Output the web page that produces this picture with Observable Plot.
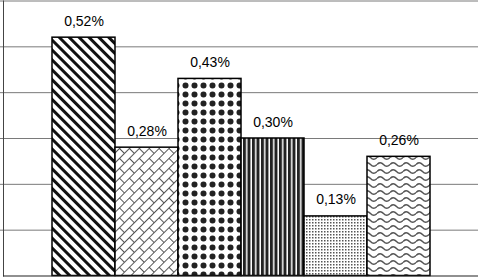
<!DOCTYPE html>
<html>
<head>
<meta charset="utf-8">
<script src="https://cdn.jsdelivr.net/npm/d3@7"></script>
<script src="https://cdn.jsdelivr.net/npm/@observablehq/plot@0.6"></script>
<style>
  html, body { margin: 0; padding: 0; background: #fff; }
  svg { display: block; }
</style>
</head>
<body>
<div id="chart"></div>
<script>
const categories = ["1", "2", "3", "4", "5", "6"];
const values = [0.52, 0.28, 0.43, 0.30, 0.13, 0.26];
const labels = ["0,52%", "0,28%", "0,43%", "0,30%", "0,13%", "0,26%"];
const patterns = ["p1", "p2", "p3", "p4", "p5", "p6"];
const yTicks = [0, 0.1, 0.2, 0.3, 0.4, 0.5, 0.6];

const data = categories.map((c, i) => ({
  cat: c, value: values[i], label: labels[i], fill: `url(#${patterns[i]})`
}));

const chart = Plot.plot({
  width: 478,
  height: 280,
  marginTop: 0.5,
  marginBottom: 4.5,
  marginLeft: 3,
  marginRight: 0,
  style: { fontFamily: "'Liberation Sans', Arial, sans-serif", background: "#fff" },
  x: { domain: categories, paddingInner: 0, paddingOuter: 0.75, axis: null },
  y: { domain: [0, 0.6], axis: null },
  color: { type: "identity" },
  marks: [
    Plot.gridY(yTicks.slice(1), { stroke: "#7a7a7a", strokeOpacity: 1, strokeWidth: 1 }),
    Plot.axisY(yTicks.slice(1), { tickSize: 3, tickFormat: () => "", label: null, stroke: "#7a7a7a" }),
    Plot.frame({ anchor: "left", stroke: "#444" }),
    Plot.barY(data, { x: "cat", y: "value", fill: "fill", stroke: "#000", strokeWidth: 1.5 }),
    Plot.ruleY([0], { stroke: "#222", strokeWidth: 1.2 }),
    Plot.text(data, { x: "cat", y: "value", text: "label", dy: -12, lineAnchor: "bottom", fontSize: 14, fill: "#000" })
  ]
});

const defs = `
<defs>
  <pattern id="p1" patternUnits="userSpaceOnUse" width="7" height="7" patternTransform="rotate(-45)">
    <rect width="7" height="7" fill="#fff"/>
    <rect x="0" y="0" width="3" height="7" fill="#111"/>
  </pattern>
  <pattern id="p2" patternUnits="userSpaceOnUse" width="14" height="14" patternTransform="rotate(-45)">
    <rect width="14" height="14" fill="#fff"/>
    <path d="M0,0.5H14M0,7.5H14M0.5,0V7M7.5,7V14" stroke="#555" stroke-width="1" fill="none"/>
  </pattern>
  <pattern id="p3" patternUnits="userSpaceOnUse" width="9" height="9" x="1">
    <rect width="9" height="9" fill="#fff"/>
    <circle cx="4.5" cy="4.5" r="3" fill="#222"/>
  </pattern>
  <pattern id="p4" patternUnits="userSpaceOnUse" width="4.5" height="10">
    <rect width="4.5" height="10" fill="#fff"/>
    <rect x="0" y="0" width="3" height="10" fill="#222"/>
  </pattern>
  <pattern id="p5" patternUnits="userSpaceOnUse" width="3" height="3">
    <rect width="3" height="3" fill="#fff"/>
    <rect x="0" y="0" width="1.5" height="1.5" fill="#555"/>
  </pattern>
  <pattern id="p6" patternUnits="userSpaceOnUse" width="13" height="7">
    <rect width="13" height="7" fill="#fff"/>
    <path d="M0,3.5 Q3.25,0 6.5,3.5 T13,3.5" stroke="#555" stroke-width="1.5" fill="none"/>
  </pattern>
</defs>`;
chart.insertAdjacentHTML("afterbegin", defs);
document.getElementById("chart").appendChild(chart);
</script>
</body>
</html>
